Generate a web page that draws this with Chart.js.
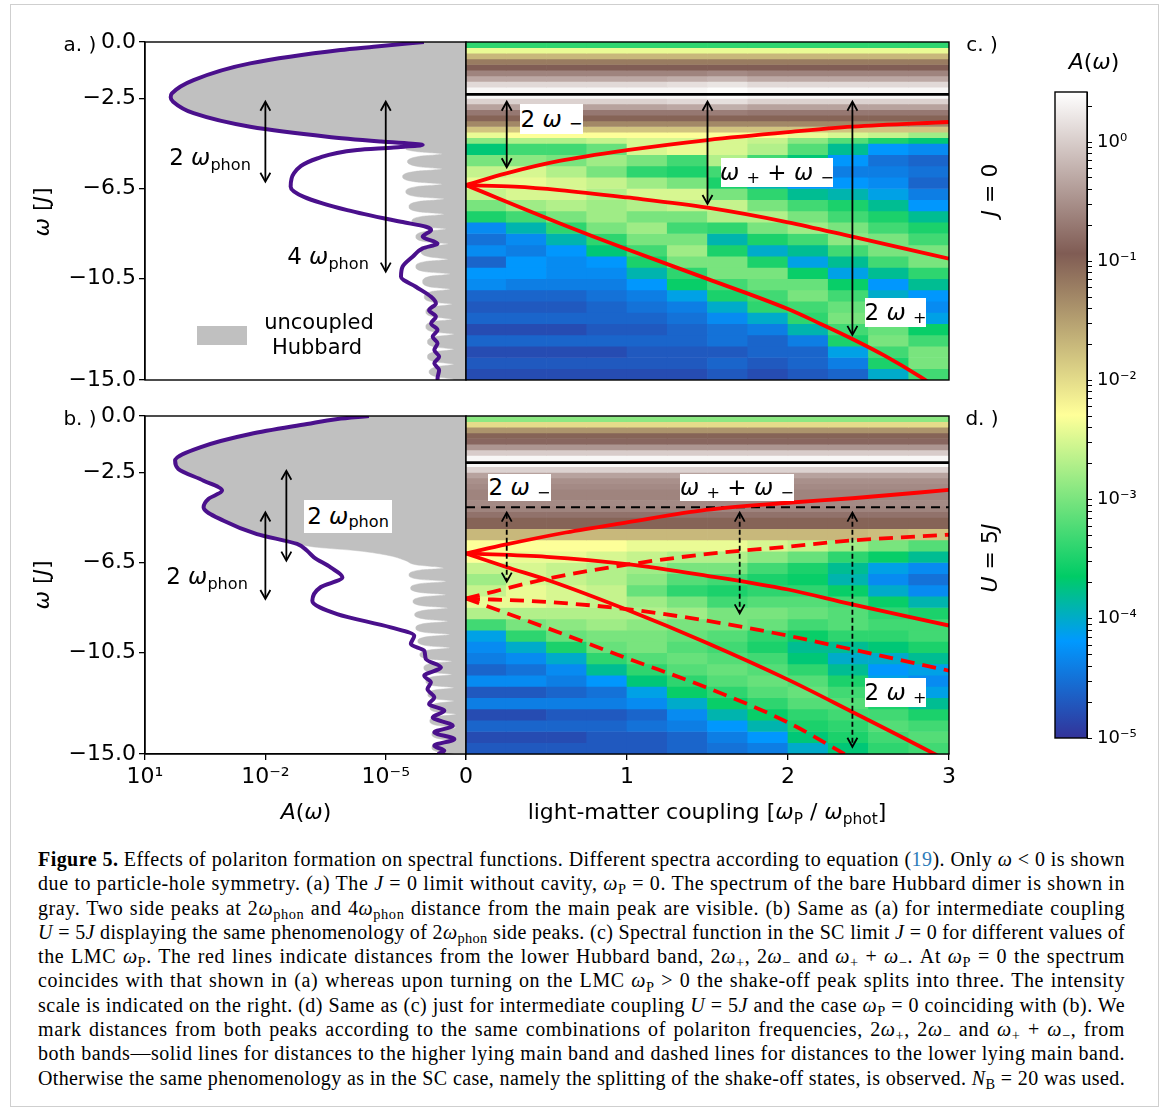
<!DOCTYPE html>
<html>
<head>
<meta charset="utf-8">
<script src="https://cdn.jsdelivr.net/npm/chart.js@4.4.1/dist/chart.umd.min.js"></script>
<style>
  body { margin: 0; background: #fff; }
  #fig { position: relative; width: 1167px; height: 1111px; background: #fff; overflow: hidden;
         font-family: 'DejaVu Sans', sans-serif; color: #000; }
  canvas { position: absolute; left: 0; top: 0; }
  .c { position: absolute; white-space: nowrap; line-height: 1; transform: translate(-50%, -50%); }
  .rot { transform: translate(-50%, -50%) rotate(-90deg); }
  .box { position: absolute; background: #fff; display: flex; align-items: center; justify-content: center;
         white-space: nowrap; line-height: 1; font-size: 23px; }
  i { font-style: italic; }
  sub { font-size: 0.7em; vertical-align: baseline; position: relative; top: 0.32em; line-height: 0; }
  #cap { position: absolute; left: 38px; top: 847px; width: 1087px; font-family: 'Liberation Serif', serif;
         font-size: 20px; line-height: 24.3px; }
  #cap div { white-space: nowrap; }
  #cap div.j { text-align: justify; text-align-last: justify; }
  #cap sub { font-size: 0.72em; top: 0.28em; }
</style>
</head>
<body>
<div id="fig">
  <div style="position:absolute;left:10px;top:4px;width:1147px;height:1101px;border:1px solid #cfcfcf;"></div>
  <canvas id="cA" width="1167" height="830"></canvas>
  <canvas id="cB" width="1167" height="830"></canvas>
  <canvas id="cC" width="1167" height="830"></canvas>
  <canvas id="cD" width="1167" height="830"></canvas>
  <canvas id="cE" width="1167" height="830"></canvas>

  <!-- panel letters and side labels -->
  <div class="c" style="left:80px;top:44px;font-size:20px">a. )</div>
  <div class="c" style="left:80px;top:418px;font-size:20px">b. )</div>
  <div class="c" style="left:982px;top:44px;font-size:20px">c. )</div>
  <div class="c" style="left:982px;top:418px;font-size:20px">d. )</div>
  <div class="c rot" style="left:990px;top:190px;font-size:22px"><i>J</i> = 0</div>
  <div class="c rot" style="left:990px;top:558px;font-size:22px"><i>U</i> = 5<i>J</i></div>

  <!-- axis titles -->
  <div class="c rot" style="left:42px;top:212px;font-size:22px"><i>ω</i> [<i>J</i>]</div>
  <div class="c rot" style="left:42px;top:585px;font-size:22px"><i>ω</i> [<i>J</i>]</div>
  <div class="c" style="left:306px;top:812px;font-size:22px"><i>A</i>(<i>ω</i>)</div>
  <div class="c" style="left:707px;top:812px;font-size:22px">light-matter coupling [<i>ω</i><sub>P</sub> / <i>ω</i><sub>phot</sub>]</div>
  <div class="c" style="left:1094px;top:62px;font-size:22px"><i>A</i>(<i>ω</i>)</div>

  <!-- panel a annotations -->
  <div class="c" style="left:210px;top:157px;font-size:23px">2 <i>ω</i><sub>phon</sub></div>
  <div class="c" style="left:328px;top:256px;font-size:23px">4 <i>ω</i><sub>phon</sub></div>
  <div style="position:absolute;left:197px;top:326px;width:50px;height:19px;background:#c0c0c0"></div>
  <div class="c" style="left:319px;top:322px;font-size:21px">uncoupled</div>
  <div class="c" style="left:317px;top:347px;font-size:21px">Hubbard</div>

  <!-- panel b annotations -->
  <div class="box" style="left:304px;top:500px;width:88px;height:33px">2 <i>&nbsp;ω</i><sub>phon</sub></div>
  <div class="c" style="left:207px;top:576px;font-size:23px">2 <i>ω</i><sub>phon</sub></div>

  <!-- panel c annotations -->
  <div class="box" style="left:520px;top:104px;width:63px;height:30px">2 <i>&nbsp;ω</i>&nbsp;<sub>−</sub></div>
  <div class="box" style="left:721px;top:158px;width:112px;height:29px"><i>ω</i>&nbsp;<sub>+</sub>&nbsp;+&nbsp;<i>ω</i>&nbsp;<sub>−</sub></div>
  <div class="box" style="left:865px;top:298px;width:61px;height:29px">2 <i>&nbsp;ω</i>&nbsp;<sub>+</sub></div>

  <!-- panel d annotations -->
  <div class="box" style="left:488px;top:474px;width:63px;height:27px">2 <i>&nbsp;ω</i>&nbsp;<sub>−</sub></div>
  <div class="box" style="left:680px;top:474px;width:114px;height:27px"><i>ω</i>&nbsp;<sub>+</sub>&nbsp;+&nbsp;<i>ω</i>&nbsp;<sub>−</sub></div>
  <div class="box" style="left:865px;top:678px;width:61px;height:29px">2 <i>&nbsp;ω</i>&nbsp;<sub>+</sub></div>

  <div id="cap">
    <div><span><b>Figure 5.</b> Effects of polariton formation on spectral functions. Different spectra according to equation (<span style="color:#2b7bb9">19</span>). Only <i>ω</i> &lt; 0 is shown</span></div>
    <div><span>due to particle-hole symmetry. (a) The <i>J</i> = 0 limit without cavity, <i>ω</i><sub>P</sub> = 0. The spectrum of the bare Hubbard dimer is shown in</span></div>
    <div><span>gray. Two side peaks at 2<i>ω</i><sub>phon</sub> and 4<i>ω</i><sub>phon</sub> distance from the main peak are visible. (b) Same as (a) for intermediate coupling</span></div>
    <div><span><i>U</i> = 5<i>J</i> displaying the same phenomenology of 2<i>ω</i><sub>phon</sub> side peaks. (c) Spectral function in the SC limit <i>J</i> = 0 for different values of</span></div>
    <div><span>the LMC <i>ω</i><sub>P</sub>. The red lines indicate distances from the lower Hubbard band, 2<i>ω</i><sub>+</sub>, 2<i>ω</i><sub>−</sub> and <i>ω</i><sub>+</sub> + <i>ω</i><sub>−</sub>. At <i>ω</i><sub>P</sub> = 0 the spectrum</span></div>
    <div><span>coincides with that shown in (a) whereas upon turning on the LMC <i>ω</i><sub>P</sub> &gt; 0 the shake-off peak splits into three. The intensity</span></div>
    <div><span>scale is indicated on the right. (d) Same as (c) just for intermediate coupling <i>U</i> = 5<i>J</i> and the case <i>ω</i><sub>P</sub> = 0 coinciding with (b). We</span></div>
    <div><span>mark distances from both peaks according to the same combinations of polariton frequencies, 2<i>ω</i><sub>+</sub>, 2<i>ω</i><sub>−</sub> and <i>ω</i><sub>+</sub> + <i>ω</i><sub>−</sub>, from</span></div>
    <div><span>both bands—solid lines for distances to the higher lying main band and dashed lines for distances to the lower lying main band.</span></div>
    <div><span>Otherwise the same phenomenology as in the SC case, namely the splitting of the shake-off states, is observed. <i>N</i><sub>B</sub> = 20 was used.</span></div>
  </div>
</div>

<script>
// ---------- data ----------

// (a) J = 0, coupled spectrum: omega [J] and log10 A(omega)
const curveA_w    = [0, -0.21, -0.355, -0.95, -1.69, -2.28, -2.45, -2.65, -3.16, -3.76, -4.2, -4.42, -4.57, -4.68, -4.79, -5.17, -5.83, -6.42, -6.87, -7.46, -7.98, -8.2, -8.34, -8.64, -8.94, -9.16, -9.53, -9.97, -10.42, -10.86, -11.31, -11.6, -11.9, -12.19, -12.49, -12.78, -13.08, -13.37, -13.67, -13.97, -14.26, -14.56, -14.93, -15];
const curveA_logA = [-5.95, -4.7, -3.87, -1.62, -0.21, 0.33, 0.36, 0.3, -0.21, -1.62, -3.54, -4.88, -5.92, -5.2, -4.29, -3.29, -2.71, -2.63, -2.96, -4.04, -5.38, -6.0, -6.13, -5.92, -6.29, -5.92, -5.67, -5.42, -5.38, -5.75, -6.13, -6.25, -6.08, -6.25, -6.13, -6.29, -6.17, -6.29, -6.21, -6.33, -6.21, -6.33, -6.29, -6.3];

// (a) uncoupled Hubbard (gray)
const hubA_w = [0, -0.21, -0.355, -0.95, -1.69, -2.28, -2.45, -2.65, -3.16, -3.76, -4.2, -4.42, -4.57,
  -4.75, -4.87, -4.97, -5.07, -5.31, -5.54, -5.64, -5.74, -5.98, -6.21, -6.31, -6.41, -6.64, -6.87, -6.97,
  -7.07, -7.31, -7.54, -7.64, -7.74, -7.97, -8.2, -8.3, -8.4, -8.64, -8.87, -8.97, -9.07, -9.31, -9.54, -9.64,
  -9.74, -9.97, -10.2, -10.3, -10.4, -10.64, -10.87, -10.97, -11.07, -11.31, -11.54, -11.64, -11.74, -11.97, -12.2, -12.3,
  -12.4, -12.64, -12.87, -12.97, -13.07, -13.31, -13.54, -13.64, -13.74, -13.97, -14.2, -14.3, -14.4, -14.64, -14.87, -14.97, -15.1];
const hubA_logA = [-5.95, -4.7, -3.87, -1.62, -0.21, 0.33, 0.36, 0.3, -0.21, -1.62, -3.54, -4.88, -5.92,
  -5.5, -5.8, -6.4, -5.85, -5.54, -5.85, -6.4, -5.75, -5.42, -5.75, -6.4, -5.8, -5.5, -5.8, -6.45,
  -5.85, -5.58, -5.85, -6.45, -5.9, -5.65, -5.9, -6.5, -6.0, -5.75, -6.0, -6.55, -6.1, -5.88, -6.1, -6.55,
  -6.0, -5.75, -6.0, -6.6, -6.1, -5.92, -6.1, -6.6, -6.15, -5.96, -6.15, -6.65, -6.2, -6.0, -6.2, -6.65,
  -6.2, -6.0, -6.2, -6.7, -6.25, -6.04, -6.25, -6.7, -6.25, -6.04, -6.25, -6.7, -6.3, -6.08, -6.3, -6.7, -6.3];

// (b) U = 5J, coupled spectrum
const curveB_w    = [0, -0.13, -0.355, -0.8, -1.39, -1.98, -2.35, -2.87, -3.31, -3.68, -4.05, -4.65, -5.24, -5.68, -5.98, -6.27, -6.72, -7.16, -7.6, -8.2, -8.79, -9.38, -9.75, -10.12, -10.42, -10.79, -11.15, -11.53, -11.82, -12.12, -12.49, -12.78, -13.08, -13.37, -13.75, -14.04, -14.34, -14.63, -14.86, -15];
const curveB_logA = [-4.58, -3.8, -3.04, -1.625, -0.375, 0.25, 0.17, -0.46, -0.92, -0.58, -0.46, -0.96, -1.79, -2.79, -3.04, -3.21, -3.625, -3.92, -3.375, -3.17, -3.79, -5.125, -5.71, -5.625, -5.96, -6.0, -6.375, -5.96, -6.125, -6.04, -6.21, -6.08, -6.46, -6.17, -6.67, -6.21, -6.71, -6.21, -6.46, -6.3];

// (b) uncoupled Hubbard (gray)
const hubB_w = [0, -0.13, -0.355, -0.8, -1.39, -1.98, -2.35, -2.87, -3.31, -3.68, -4.05, -4.65, -5.24, -5.68, -5.83, -5.98, -6.2, -6.42, -6.6, -6.75,
  -6.84, -7.05, -7.25, -7.34, -7.43, -7.64, -7.84, -7.93, -8.02, -8.23, -8.43, -8.52, -8.61, -8.82, -9.02, -9.11,
  -9.2, -9.41, -9.61, -9.7, -9.79, -10.0, -10.2, -10.29, -10.38, -10.59, -10.79, -10.88, -10.97, -11.18, -11.38, -11.47,
  -11.56, -11.77, -11.97, -12.06, -12.15, -12.36, -12.56, -12.65, -12.74, -12.95, -13.15, -13.24, -13.33, -13.54, -13.74, -13.83,
  -13.92, -14.13, -14.33, -14.42, -14.51, -14.72, -14.92, -15.01];
const hubB_logA = [-4.58, -3.8, -3.04, -1.625, -0.375, 0.25, 0.17, -0.46, -0.92, -0.58, -0.46, -0.96, -1.79, -2.79, -3.3, -4.29, -5.1, -5.5, -5.75, -6.45,
  -5.85, -5.58, -5.85, -6.5, -5.9, -5.62, -5.9, -6.5, -5.95, -5.68, -5.95, -6.55, -6.0, -5.72, -6.0, -6.55,
  -6.0, -5.75, -6.0, -6.6, -6.05, -5.8, -6.05, -6.6, -6.1, -5.85, -6.1, -6.65, -6.15, -5.95, -6.15, -6.65,
  -6.2, -6.0, -6.2, -6.7, -6.25, -6.05, -6.25, -6.7, -6.3, -6.1, -6.3, -6.75, -6.3, -6.1, -6.3, -6.75,
  -6.35, -6.15, -6.35, -6.75, -6.35, -6.15, -6.35, -6.75];

// left panels: omega tick values and A tick values
const omegaTicks = [0, -2.5, -6.5, -10.5, -15];
const aTicks = [10, 1e-2, 1e-5, 1e-7];
const aTickLabels = ['10¹', '10⁻²', '10⁻⁵', ''];

// double arrows, (a) and (b): position on A axis, omega top / bottom
const arrowA_x = [1e-2, 1e-5], arrowA_top = [-2.65, -2.65], arrowA_bot = [-6.2, -10.19];
const arrowB_x = [1e-2, 3e-3], arrowB_top = [-4.28, -2.43], arrowB_bot = [-8.12, -6.42];

// heat maps (c) and (d): LMC column centres, omega row edges, log10 A per cell
const colCenters = [0.125, 0.375, 0.625, 0.875, 1.125, 1.375, 1.625, 1.875, 2.125, 2.375, 2.625, 2.875];
const rowEdges = [0, -0.25, -0.5, -0.75, -1, -1.25, -1.5, -1.75, -2, -2.25, -2.5, -2.75, -3, -3.25, -3.5, -3.75, -4, -4.25, -4.5,
  -5, -5.5, -6, -6.5, -7, -7.5, -8, -8.5, -9, -9.5, -10, -10.5, -11, -11.5, -12, -12.5, -13, -13.5, -14, -14.5, -15];

const heatC = [
  [-3.4, -3.4, -3.4, -3.4, -3.4, -3.4, -3.4, -3.4, -3.4, -3.4, -3.4, -3.4],
  [-2.4, -2.4, -2.4, -2.4, -2.4, -2.4, -2.4, -2.4, -2.4, -2.4, -2.4, -2.4],
  [-1.7, -1.7, -1.7, -1.7, -1.7, -1.7, -1.7, -1.7, -1.7, -1.7, -1.7, -1.7],
  [-1.2, -1.2, -1.2, -1.2, -1.2, -1.2, -1.2, -1.2, -1.2, -1.2, -1.2, -1.2],
  [-0.95, -0.95, -0.95, -0.95, -0.95, -0.95, -0.95, -0.95, -0.95, -0.95, -0.95, -0.95],
  [-0.6, -0.6, -0.6, -0.6, -0.6, -0.6, -0.55, -0.6, -0.6, -0.6, -0.6, -0.6],
  [-0.3, -0.3, -0.3, -0.3, -0.3, -0.25, -0.2, -0.3, -0.3, -0.3, -0.3, -0.3],
  [0.1, 0.1, 0.1, 0.1, 0.1, 0.15, 0.2, 0.1, 0.1, 0.1, 0.1, 0.1],
  [0.35, 0.35, 0.35, 0.35, 0.35, 0.35, 0.4, 0.35, 0.35, 0.35, 0.35, 0.35],
  [0.35, 0.35, 0.35, 0.35, 0.35, 0.35, 0.4, 0.35, 0.35, 0.35, 0.35, 0.35],
  [0.05, 0.05, 0.05, 0.05, 0.05, 0.1, 0.15, 0.05, 0.05, 0.05, 0.05, 0.05],
  [-0.35, -0.35, -0.35, -0.35, -0.35, -0.3, -0.25, -0.35, -0.35, -0.35, -0.35, -0.35],
  [-0.7, -0.7, -0.7, -0.7, -0.7, -0.7, -0.65, -0.7, -0.7, -0.7, -0.7, -0.7],
  [-1.0, -1.0, -1.0, -1.0, -1.0, -1.0, -1.0, -1.0, -1.0, -1.0, -1.0, -1.0],
  [-1.3, -1.3, -1.3, -1.3, -1.3, -1.3, -1.3, -1.3, -1.3, -1.3, -1.3, -1.3],
  [-1.8, -1.8, -1.8, -1.8, -1.8, -1.8, -1.8, -1.8, -1.8, -1.8, -1.8, -1.8],
  [-2.4, -2.3, -2.3, -2.3, -2.3, -2.3, -2.3, -2.3, -2.4, -2.5, -2.6, -2.8],
  [-2.9, -2.7, -2.7, -2.6, -2.5, -2.5, -2.5, -2.6, -2.9, -3.2, -3.5, -3.7],
  [-3.7, -3.3, -3.3, -3.1, -2.5, -2.4, -2.5, -2.7, -3.2, -3.8, -4.2, -4.3],
  [-3.0, -2.9, -3.0, -2.8, -3.0, -3.3, -2.7, -3.3, -3.7, -4.2, -4.5, -4.6],
  [-2.6, -2.5, -2.7, -3.0, -3.4, -3.5, -3.3, -3.5, -4.1, -4.4, -4.4, -4.5],
  [-2.4, -2.4, -2.5, -2.6, -2.8, -3.0, -3.5, -3.9, -4.2, -4.2, -4.3, -4.6],
  [-2.6, -2.5, -2.5, -2.7, -2.5, -2.5, -3.0, -3.4, -3.8, -3.9, -4.1, -4.4],
  [-3.0, -2.8, -2.7, -2.8, -2.7, -2.6, -2.6, -3.0, -3.3, -3.5, -3.8, -4.2],
  [-3.5, -3.3, -3.0, -2.8, -3.0, -3.0, -2.7, -2.7, -3.0, -3.3, -3.5, -3.8],
  [-4.3, -3.9, -3.4, -3.0, -2.8, -3.3, -3.4, -3.0, -2.8, -3.0, -3.3, -3.5],
  [-4.5, -4.3, -3.9, -3.4, -3.0, -3.0, -3.9, -3.5, -3.3, -2.9, -3.0, -3.3],
  [-4.3, -4.4, -4.2, -3.7, -3.3, -2.8, -3.5, -4.0, -3.8, -3.3, -3.0, -3.0],
  [-4.6, -4.2, -4.3, -4.2, -3.5, -3.0, -3.0, -3.5, -4.1, -3.8, -3.3, -3.0],
  [-4.2, -4.2, -4.3, -4.3, -3.9, -3.4, -3.0, -3.0, -3.6, -4.1, -3.8, -3.4],
  [-4.3, -4.4, -4.4, -4.4, -4.2, -3.6, -3.3, -3.1, -3.1, -3.6, -4.2, -3.8],
  [-4.6, -4.6, -4.6, -4.5, -4.4, -4.1, -3.5, -3.3, -3.0, -3.3, -4.0, -4.2],
  [-4.7, -4.7, -4.7, -4.6, -4.5, -4.4, -4.0, -3.4, -3.3, -3.1, -3.6, -4.3],
  [-4.6, -4.6, -4.6, -4.6, -4.6, -4.5, -4.3, -4.0, -3.4, -3.0, -3.3, -4.1],
  [-4.8, -4.8, -4.8, -4.7, -4.7, -4.6, -4.5, -4.4, -3.9, -3.3, -3.1, -3.6],
  [-4.6, -4.6, -4.6, -4.6, -4.6, -4.6, -4.5, -4.6, -4.4, -3.5, -3.0, -3.3],
  [-4.8, -4.8, -4.8, -4.8, -4.7, -4.7, -4.7, -4.6, -4.6, -4.1, -3.3, -3.0],
  [-4.7, -4.7, -4.7, -4.7, -4.7, -4.7, -4.6, -4.7, -4.6, -4.4, -3.5, -3.0],
  [-4.8, -4.8, -4.8, -4.8, -4.8, -4.8, -4.7, -4.8, -4.7, -4.6, -4.0, -3.3]
];

const heatD = [
  [-2.9, -2.9, -2.9, -2.9, -2.9, -2.9, -2.9, -2.9, -2.9, -2.9, -2.9, -2.9],
  [-2.0, -2.0, -2.0, -2.0, -2.0, -2.0, -2.0, -2.0, -2.0, -2.0, -2.0, -2.0],
  [-1.4, -1.4, -1.4, -1.4, -1.4, -1.4, -1.4, -1.4, -1.4, -1.4, -1.4, -1.4],
  [-1.0, -1.0, -1.0, -1.0, -1.0, -1.0, -1.0, -1.0, -1.0, -1.0, -1.0, -1.0],
  [-0.85, -0.85, -0.85, -0.85, -0.85, -0.85, -0.85, -0.85, -0.85, -0.85, -0.85, -0.85],
  [-0.45, -0.45, -0.45, -0.45, -0.45, -0.45, -0.45, -0.45, -0.45, -0.45, -0.45, -0.45],
  [0.0, 0.0, 0.0, 0.0, 0.0, 0.0, 0.0, 0.0, 0.0, 0.0, 0.0, 0.0],
  [0.35, 0.35, 0.35, 0.35, 0.35, 0.35, 0.35, 0.35, 0.35, 0.35, 0.35, 0.35],
  [0.35, 0.35, 0.35, 0.35, 0.35, 0.35, 0.35, 0.35, 0.35, 0.35, 0.35, 0.35],
  [0.05, 0.05, 0.05, 0.05, 0.05, 0.05, 0.05, 0.05, 0.05, 0.05, 0.05, 0.05],
  [-0.35, -0.35, -0.35, -0.35, -0.35, -0.35, -0.35, -0.35, -0.35, -0.35, -0.35, -0.35],
  [-0.5, -0.5, -0.5, -0.5, -0.5, -0.5, -0.5, -0.5, -0.5, -0.5, -0.5, -0.5],
  [-0.55, -0.55, -0.55, -0.55, -0.55, -0.55, -0.55, -0.55, -0.55, -0.55, -0.55, -0.55],
  [-0.6, -0.6, -0.6, -0.6, -0.6, -0.6, -0.6, -0.6, -0.6, -0.6, -0.6, -0.6],
  [-0.6, -0.6, -0.6, -0.6, -0.6, -0.6, -0.6, -0.6, -0.6, -0.6, -0.6, -0.6],
  [-0.55, -0.55, -0.55, -0.55, -0.55, -0.55, -0.55, -0.55, -0.55, -0.55, -0.55, -0.55],
  [-0.6, -0.6, -0.6, -0.6, -0.6, -0.6, -0.6, -0.6, -0.6, -0.6, -0.6, -0.6],
  [-0.75, -0.75, -0.75, -0.75, -0.75, -0.75, -0.75, -0.75, -0.75, -0.75, -0.75, -0.75],
  [-1.0, -1.0, -1.0, -1.0, -1.0, -1.0, -1.0, -1.0, -1.0, -1.0, -1.0, -1.0],
  [-1.7, -1.7, -1.7, -1.7, -1.7, -1.7, -1.7, -1.7, -1.7, -1.7, -1.75, -1.8],
  [-2.3, -2.3, -2.3, -2.3, -2.4, -2.4, -2.4, -2.5, -2.6, -2.8, -3.0, -3.2],
  [-2.3, -2.4, -2.4, -2.5, -2.6, -2.7, -2.7, -2.9, -3.1, -3.4, -3.6, -3.8],
  [-2.6, -2.5, -2.6, -2.7, -2.8, -3.0, -3.0, -3.3, -3.5, -3.8, -4.1, -4.3],
  [-2.8, -2.5, -2.6, -2.7, -2.9, -3.2, -3.3, -3.5, -3.6, -3.9, -4.3, -4.5],
  [-2.6, -2.4, -2.5, -2.6, -3.1, -3.4, -3.5, -3.4, -3.4, -3.6, -4.0, -4.3],
  [-2.4, -2.4, -2.5, -2.6, -2.8, -3.0, -3.3, -3.2, -3.2, -3.3, -3.6, -3.9],
  [-2.7, -2.7, -2.7, -2.7, -2.7, -2.8, -3.0, -3.0, -3.1, -3.2, -3.4, -3.5],
  [-3.3, -3.0, -2.9, -2.8, -2.9, -3.0, -3.0, -3.1, -3.3, -3.2, -3.3, -3.3],
  [-4.1, -3.4, -3.1, -3.0, -3.0, -3.1, -3.2, -3.4, -3.6, -3.4, -3.4, -3.3],
  [-4.3, -4.0, -3.5, -3.1, -3.0, -3.2, -3.3, -3.5, -3.8, -3.8, -3.7, -3.5],
  [-4.4, -4.3, -4.0, -3.4, -3.2, -3.1, -3.2, -3.3, -3.7, -4.0, -4.0, -3.8],
  [-4.6, -4.5, -4.3, -3.8, -3.4, -3.2, -3.1, -3.2, -3.4, -3.8, -4.2, -4.1],
  [-4.3, -4.3, -4.4, -4.2, -3.7, -3.4, -3.2, -3.1, -3.2, -3.5, -4.1, -4.3],
  [-4.7, -4.7, -4.6, -4.5, -4.1, -3.6, -3.4, -3.2, -3.1, -3.3, -3.8, -4.1],
  [-4.4, -4.4, -4.4, -4.4, -4.3, -4.0, -3.6, -3.4, -3.2, -3.2, -3.5, -3.8],
  [-4.8, -4.8, -4.7, -4.7, -4.6, -4.3, -3.9, -3.6, -3.4, -3.3, -3.3, -3.5],
  [-4.6, -4.6, -4.6, -4.6, -4.5, -4.4, -4.2, -3.9, -3.5, -3.4, -3.2, -3.3],
  [-4.8, -4.8, -4.8, -4.7, -4.7, -4.6, -4.4, -4.2, -3.7, -3.5, -3.3, -3.2],
  [-4.7, -4.7, -4.7, -4.7, -4.7, -4.6, -4.5, -4.4, -4.0, -3.7, -3.4, -3.3]
];

// (c) red lines: 2w-, w+ + w-, 2w+  (LMC, omega)
const lineC1_x = [0, 0.25, 0.58, 1.0, 1.5, 2.0, 2.4, 3.0], lineC1_w = [-6.35, -5.83, -5.28, -4.8, -4.35, -4.0, -3.76, -3.55];
const lineC2_x = [0, 0.3, 0.58, 1.0, 1.5, 2.0, 2.4, 3.0],  lineC2_w = [-6.35, -6.42, -6.57, -6.9, -7.35, -8.0, -8.64, -9.62];
const lineC3_x = [0, 0.584, 1.0, 1.495, 2.0, 2.2, 2.406, 2.6, 2.82, 3.0], lineC3_w = [-6.35, -8.05, -9.2, -10.5, -11.85, -12.5, -13.2, -13.92, -14.85, -15.7];
const peakC = -2.32;

// (d) solid red lines from the upper band, dashed from the lower band
const lineD1_x = [0, 0.25, 0.62, 1.0, 1.49, 2.0, 2.4, 3.0],   lineD1_w = [-6.1, -5.7, -5.17, -4.72, -4.17, -3.85, -3.65, -3.28];
const lineD2_x = [0, 0.5, 1.0, 1.49, 2.0, 2.385, 3.0],        lineD2_w = [-6.1, -6.25, -6.57, -7.08, -7.7, -8.34, -9.3];
const lineD3_x = [0, 0.25, 0.52, 1.0, 1.49, 2.0, 2.385, 2.91, 3.0], lineD3_w = [-6.1, -6.7, -7.31, -8.6, -10.05, -11.7, -13.08, -15.0, -15.35];
const lineD4_x = [0, 0.52, 1.0, 1.49, 2.0, 2.385, 3.0],       lineD4_w = [-8.1, -7.2, -6.6, -6.13, -5.8, -5.53, -5.27];
const lineD5_x = [0, 0.5, 1.0, 1.49, 2.0, 2.385, 3.0],        lineD5_w = [-8.1, -8.25, -8.57, -9.08, -9.75, -10.34, -11.3];
const lineD6_x = [0, 0.5, 1.0, 1.49, 2.0, 2.35, 2.5],         lineD6_w = [-8.1, -9.4, -10.75, -12.04, -13.6, -15.0, -15.6];
const peakD = -2.07, peakD2 = -4.05;

// arrows in (c) and (d)
const arrowC_x = [0.253, 1.5, 2.4], arrowC_top = [-2.65, -2.65, -2.65], arrowC_bot = [-5.56, -7.19, -13.0];
const arrowD_x = [0.253, 1.7, 2.4], arrowD_top = [-4.29, -4.29, -4.29], arrowD_bot = [-7.35, -8.76, -14.68];

// colour bar: log10 range and tick decades
const cbLogMin = -5, cbLogMax = 0.42;
const cbDecades = [-5, -4, -3, -2, -1, 0];
const cbMinorMult = [2, 3, 4, 5, 6, 7, 8, 9];

// ---------- helpers ----------
const terrainStops = [
  [0.00, [51, 51, 153]],
  [0.15, [0, 153, 255]],
  [0.25, [0, 204, 102]],
  [0.50, [255, 255, 153]],
  [0.75, [128, 92, 84]],
  [1.00, [255, 255, 255]]
];

function terrain(v) {
  let t = (v - cbLogMin) / (cbLogMax - cbLogMin);
  t = Math.max(0, Math.min(1, t));
  for (let i = 1; i < terrainStops.length; i++) {
    const [t1, c1] = terrainStops[i];
    if (t <= t1) {
      const [t0, c0] = terrainStops[i - 1];
      const f = (t - t0) / (t1 - t0);
      const c = c0.map((a, k) => Math.round(a + (c1[k] - a) * f));
      return `rgb(${c[0]},${c[1]},${c[2]})`;
    }
  }
  return 'rgb(255,255,255)';
}

const supDigits = {'-': '⁻', '0': '⁰', '1': '¹', '2': '²', '3': '³', '4': '⁴', '5': '⁵', '6': '⁶', '7': '⁷', '8': '⁸', '9': '⁹'};
const sup = (n) => String(n).split('').map(ch => supDigits[ch]).join('');

const spec = (w, logA) => w.map((v, i) => ({x: Math.pow(10, logA[i]), y: v}));
const xy = (xs, ws) => xs.map((x, i) => ({x: x, y: ws[i]}));

Chart.defaults.font.family = "'DejaVu Sans', sans-serif";
Chart.defaults.color = '#000';
Chart.defaults.animation = false;
Chart.defaults.events = [];
Chart.defaults.plugins.legend.display = false;
Chart.defaults.plugins.tooltip.enabled = false;

const framePlugin = {
  id: 'frame',
  afterDraw(chart) {
    const a = chart.chartArea, ctx = chart.ctx;
    ctx.save();
    ctx.strokeStyle = '#000';
    ctx.lineWidth = 1.4;
    ctx.strokeRect(a.left, a.top, a.right - a.left, a.bottom - a.top);
    ctx.restore();
  }
};

const arrowPlugin = {
  id: 'arrows',
  afterDatasetsDraw(chart, args, opts) {
    if (!opts.x) return;
    const ctx = chart.ctx, sx = chart.scales.x, sy = chart.scales.y;
    ctx.save();
    ctx.strokeStyle = '#000';
    ctx.lineWidth = 1.8;
    opts.x.forEach((xv, i) => {
      const px = sx.getPixelForValue(xv);
      const y0 = sy.getPixelForValue(opts.top[i]);
      const y1 = sy.getPixelForValue(opts.bot[i]);
      ctx.setLineDash(opts.dash ? [5, 3] : []);
      ctx.beginPath();
      ctx.moveTo(px, y0 + 1);
      ctx.lineTo(px, y1 - 1);
      ctx.stroke();
      ctx.setLineDash([]);
      ctx.beginPath();
      ctx.moveTo(px - 5, y0 + 9); ctx.lineTo(px, y0); ctx.lineTo(px + 5, y0 + 9);
      ctx.moveTo(px - 5, y1 - 9); ctx.lineTo(px, y1); ctx.lineTo(px + 5, y1 - 9);
      ctx.stroke();
    });
    ctx.restore();
  }
};

const purple = '#4a108c';

function omegaAxis() {
  return {
    type: 'linear', min: -15, max: 0, position: 'left',
    afterFit: (s) => { s.width = 80; },
    afterBuildTicks: (s) => { s.ticks = omegaTicks.map(v => ({value: v})); },
    ticks: {
      font: {size: 22}, padding: 3,
      callback: (v) => v === 0 ? '0.0' : '−' + Math.abs(v).toFixed(1)
    },
    grid: {drawOnChartArea: false, tickLength: 6, color: '#000', lineWidth: 1.3},
    border: {color: '#000', width: 1.3}
  };
}

function spectrumChart(id, curveW, curveLogA, hubW, hubLogA, padTop, padBottom, showX, arrows) {
  return new Chart(document.getElementById(id), {
    type: 'line',
    data: {
      datasets: [
        {
          data: spec(hubW, hubLogA), borderColor: '#c0c0c0', borderWidth: 0.5,
          backgroundColor: '#c0c0c0', fill: {value: 1e-7}, pointRadius: 0,
          cubicInterpolationMode: 'monotone', order: 1
        },
        {
          data: spec(curveW, curveLogA), borderColor: purple, borderWidth: 4,
          pointRadius: 0, fill: false, cubicInterpolationMode: 'monotone', order: 0
        }
      ]
    },
    options: {
      responsive: false,
      indexAxis: 'y',
      layout: {padding: {left: 65, right: 701, top: padTop, bottom: padBottom}},
      scales: {
        x: {
          type: 'logarithmic', min: 1e-7, max: 10, reverse: true, display: showX,
          afterFit: (s) => { s.height = showX ? 40 : 0; },
          afterBuildTicks: (s) => { s.ticks = aTicks.map(v => ({value: v})); },
          ticks: {font: {size: 22}, padding: 4, autoSkip: false, maxRotation: 0,
                  callback: (v, i) => aTickLabels[i]},
          grid: {drawOnChartArea: false, tickLength: 6, color: '#000', lineWidth: 1.3},
          border: {color: '#000', width: 1.3}
        },
        y: omegaAxis()
      },
      plugins: {arrows: arrows}
    },
    plugins: [framePlugin, arrowPlugin]
  });
}

spectrumChart('cA', curveA_w, curveA_logA, hubA_w, hubA_logA, 42, 450, false,
  {x: arrowA_x, top: arrowA_top, bot: arrowA_bot, dash: false});
spectrumChart('cB', curveB_w, curveB_logA, hubB_w, hubB_logA, 416, 36, true,
  {x: arrowB_x, top: arrowB_top, bot: arrowB_bot, dash: false});

function heatSets(grid) {
  return grid.map((row, r) => ({
    type: 'bar', order: 2, grouped: false,
    data: row.map((v, k) => ({x: colCenters[k], y: [rowEdges[r + 1], rowEdges[r]]})),
    backgroundColor: row.map(terrain),
    borderWidth: 0, barPercentage: 1, categoryPercentage: 1
  }));
}

function redLine(xs, ws, dashed) {
  return {
    type: 'line', order: 0, data: xy(xs, ws), borderColor: '#ff0000', borderWidth: 3.8,
    borderDash: dashed ? [14, 8] : [], pointRadius: 0, fill: false,
    cubicInterpolationMode: 'monotone'
  };
}

function blackLine(w, dashed) {
  return {
    type: 'line', order: 1, data: [{x: 0, y: w}, {x: 3, y: w}], borderColor: '#000',
    borderWidth: dashed ? 2.2 : 2.8, borderDash: dashed ? [9, 6] : [], pointRadius: 0, fill: false
  };
}

function heatChart(id, grid, lines, padTop, padBottom, showX, arrows) {
  return new Chart(document.getElementById(id), {
    type: 'bar',
    data: {datasets: [...heatSets(grid), ...lines]},
    options: {
      responsive: false,
      layout: {padding: {left: 466, right: 218, top: padTop, bottom: padBottom}},
      scales: {
        x: {
          type: 'linear', min: 0, max: 3, offset: false, display: showX,
          afterFit: (s) => { s.height = showX ? 40 : 0; },
          ticks: {stepSize: 1, font: {size: 22}, padding: 4, callback: (v) => String(v)},
          grid: {drawOnChartArea: false, offset: false, tickLength: 6, color: '#000', lineWidth: 1.3},
          border: {color: '#000', width: 1.3}
        },
        y: {type: 'linear', min: -15, max: 0, display: false}
      },
      plugins: {arrows: arrows}
    },
    plugins: [framePlugin, arrowPlugin]
  });
}

heatChart('cC', heatC, [
  blackLine(peakC, false),
  redLine(lineC1_x, lineC1_w, false),
  redLine(lineC2_x, lineC2_w, false),
  redLine(lineC3_x, lineC3_w, false)
], 42, 450, false, {x: arrowC_x, top: arrowC_top, bot: arrowC_bot, dash: false});

heatChart('cD', heatD, [
  blackLine(peakD, false),
  blackLine(peakD2, true),
  redLine(lineD1_x, lineD1_w, false),
  redLine(lineD2_x, lineD2_w, false),
  redLine(lineD3_x, lineD3_w, false),
  redLine(lineD4_x, lineD4_w, true),
  redLine(lineD5_x, lineD5_w, true),
  redLine(lineD6_x, lineD6_w, true)
], 416, 36, true, {x: arrowD_x, top: arrowD_top, bot: arrowD_bot, dash: true});

// colour bar
const cbTicks = [];
cbDecades.forEach(d => {
  cbTicks.push(Math.pow(10, d));
  cbMinorMult.forEach(m => { if (Math.log10(m) + d <= cbLogMax) cbTicks.push(m * Math.pow(10, d)); });
});

new Chart(document.getElementById('cE'), {
  type: 'bar',
  data: {
    labels: [''],
    datasets: [{
      data: [[Math.pow(10, cbLogMin), Math.pow(10, cbLogMax)]],
      backgroundColor: (c) => {
        const a = c.chart.chartArea;
        if (!a) return '#888';
        const g = c.chart.ctx.createLinearGradient(0, a.bottom, 0, a.top);
        terrainStops.forEach(([t, rgb]) => g.addColorStop(t, `rgb(${rgb[0]},${rgb[1]},${rgb[2]})`));
        return g;
      },
      borderWidth: 0, barPercentage: 1, categoryPercentage: 1
    }]
  },
  options: {
    responsive: false,
    layout: {padding: {left: 1055, right: 20, top: 92, bottom: 92}},
    scales: {
      x: {display: false},
      y: {
        type: 'logarithmic', position: 'right',
        min: Math.pow(10, cbLogMin), max: Math.pow(10, cbLogMax),
        afterFit: (s) => { s.width = 60; },
        afterBuildTicks: (s) => { s.ticks = cbTicks.map(v => ({value: v})); },
        ticks: {
          font: {size: 18}, padding: 5, autoSkip: false,
          callback: (v) => {
            const e = Math.log10(v);
            return Math.abs(e - Math.round(e)) < 1e-6 ? '10' + sup(Math.round(e)) : '';
          }
        },
        grid: {drawOnChartArea: false, tickLength: 5, color: '#000', lineWidth: 1},
        border: {color: '#000', width: 1}
      }
    }
  },
  plugins: [framePlugin]
});

// caption: full-width justified lines, letter spacing nudged so word gaps stay natural
document.querySelectorAll('#cap > div').forEach(d => {
  const s = d.firstElementChild;
  const w = s.getBoundingClientRect().width;
  const n = d.textContent.length;
  let ls = (1087 - w) / n;
  ls = Math.max(-1.2, Math.min(0.6, ls));
  d.style.letterSpacing = ls.toFixed(3) + 'px';
  d.classList.add('j');
});
</script>
</body>
</html>
